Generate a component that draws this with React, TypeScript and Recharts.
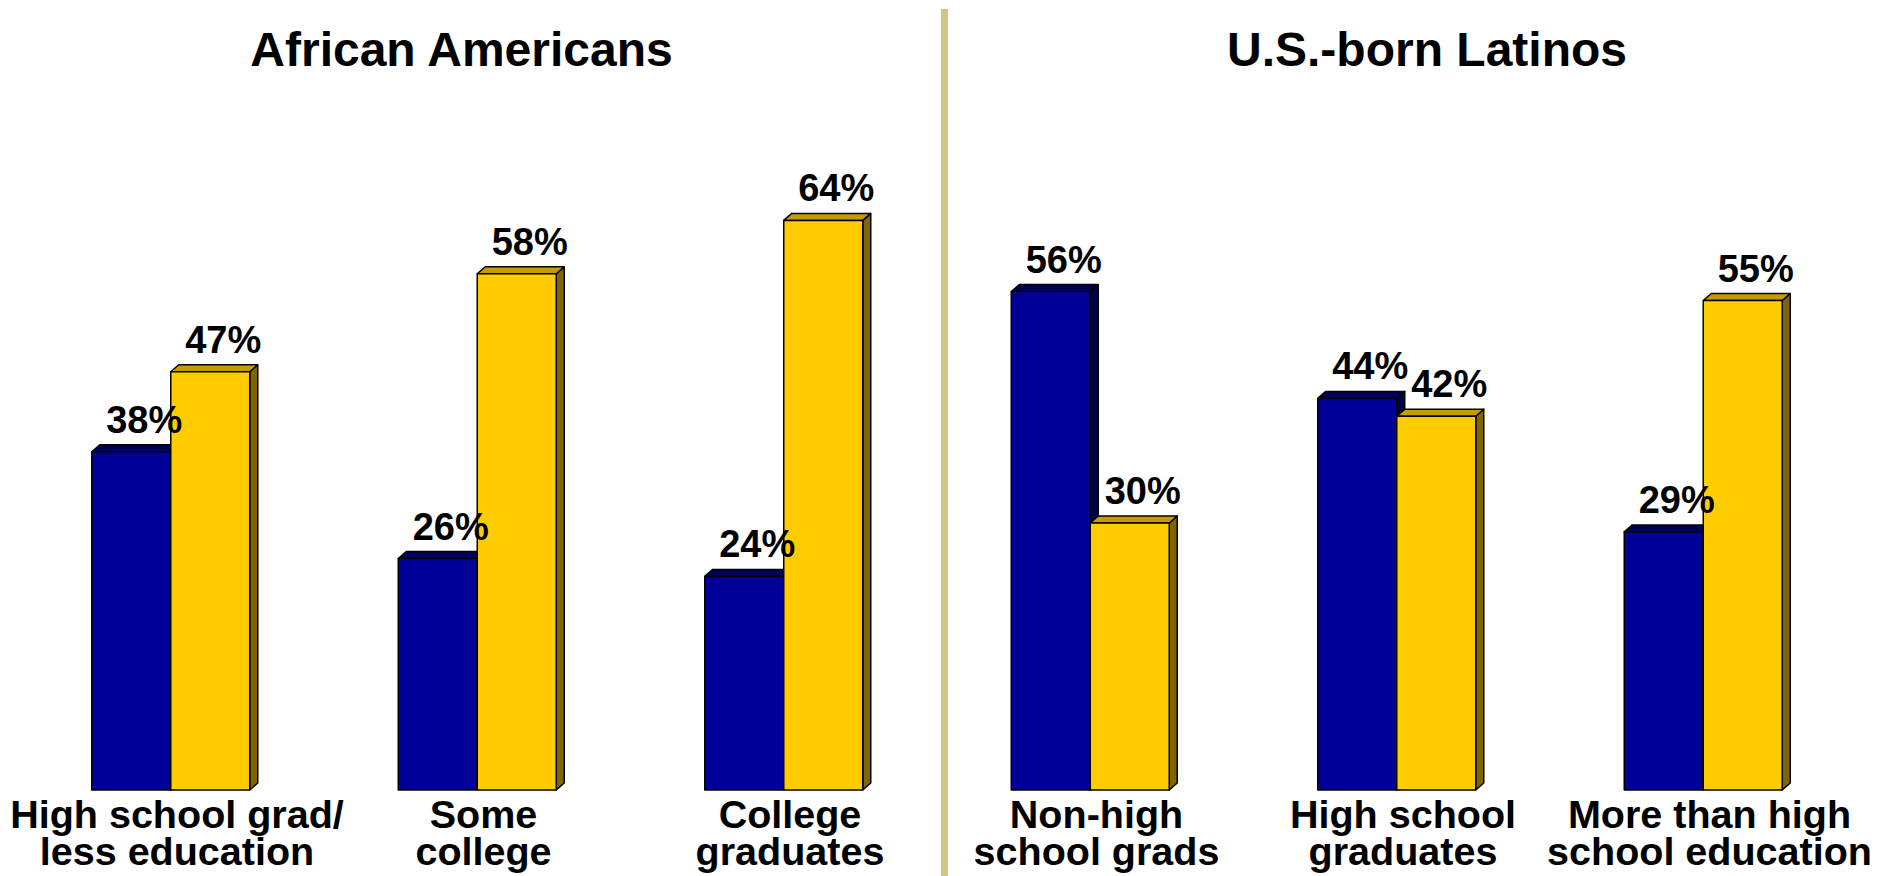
import React from 'react';
import { BarChart, Bar, XAxis, YAxis, LabelList } from 'recharts';

const categories = [
    'High school grad/|less education',
    'Some|college',
    'College|graduates',
    'Non-high|school grads',
    'High school|graduates',
    'More than high|school education',
];
const blueValues = [38, 26, 24, 56, 44, 29];
const goldValues = [47, 58, 64, 30, 42, 55];
const panelTitles = ['African Americans', 'U.S.-born Latinos'];

const data = categories.map((c, i) => ({ cat: c, blue: blueValues[i], gold: goldValues[i] }));

const FONT = '"Liberation Sans", Arial, Helvetica, sans-serif';
const DX = 8;
const DY = 7;

const makeBox = (front: string, top: string, side: string) => (p: any) => {
    const { x, y, width: w, height: h } = p;
    if (h == null || h <= 0) return null;
    const s = { stroke: '#000', strokeWidth: 1.5, strokeLinejoin: 'round' as const };
    return (
        <g>
            <polygon points={`${x + w},${y} ${x + w + DX},${y - DY} ${x + w + DX},${y + h - DY} ${x + w},${y + h}`} fill={side} {...s} />
            <polygon points={`${x},${y} ${x + DX},${y - DY} ${x + w + DX},${y - DY} ${x + w},${y}`} fill={top} {...s} />
            <rect x={x} y={y} width={w} height={h} fill={front} {...s} />
        </g>
    );
};

const BlueBox = makeBox('#000099', '#00005C', '#00004D');
const GoldBox = makeBox('#FFCC00', '#C99A00', '#806600');

const valueLabel = (p: any) => {
    const { x, y, width, value } = p;
    return (
        <text x={x + width / 2 + 13} y={y - 19} textAnchor="middle"
            fontFamily={FONT} fontWeight="bold" fontSize={38} fill="#000">
            {value}%
        </text>
    );
};

const CatTick = (p: any) => {
    const { x, y, payload } = p;
    const lines = String(payload.value).split('|');
    return (
        <text x={x + 6} y={y} textAnchor="middle" fontFamily={FONT} fontWeight="bold" fontSize={39.5} fill="#000">
            {lines.map((l, i) => (
                <tspan key={i} x={x + 6} y={y + 38 + i * 37}>{l}</tspan>
            ))}
        </text>
    );
};

const titleStyle: React.CSSProperties = {
    position: 'absolute', top: 26, width: 600, textAlign: 'center',
    fontFamily: FONT, fontWeight: 'bold', fontSize: 48, lineHeight: '48px', color: '#000',
};

export default function App() {
    return (
        <div style={{ position: 'absolute', left: 0, top: 0, width: 1898, height: 876, background: '#fff', overflow: 'hidden' }}>
            <BarChart width={1898} height={876} data={data} barGap={0} barSize={79}
                margin={{ top: 167, right: 41.25, bottom: 0, left: 17.75 }}>
                <XAxis dataKey="cat" interval={0} axisLine={false} tickLine={false}
                    tickSize={0} tickMargin={0} height={86} tick={<CatTick />} />
                <YAxis hide domain={[0, 70]} />
                <Bar dataKey="blue" shape={BlueBox} isAnimationActive={false}>
                    <LabelList dataKey="blue" content={valueLabel} />
                </Bar>
                <Bar dataKey="gold" shape={GoldBox} isAnimationActive={false}>
                    <LabelList dataKey="gold" content={valueLabel} />
                </Bar>
            </BarChart>
            <div style={{ ...titleStyle, left: 461.5 - 300 }}>{panelTitles[0]}</div>
            <div style={{ ...titleStyle, left: 1427 - 300 }}>{panelTitles[1]}</div>
            <div style={{ position: 'absolute', left: 941, top: 9, width: 7, height: 867, background: '#D3C584' }} />
        </div>
    );
}
